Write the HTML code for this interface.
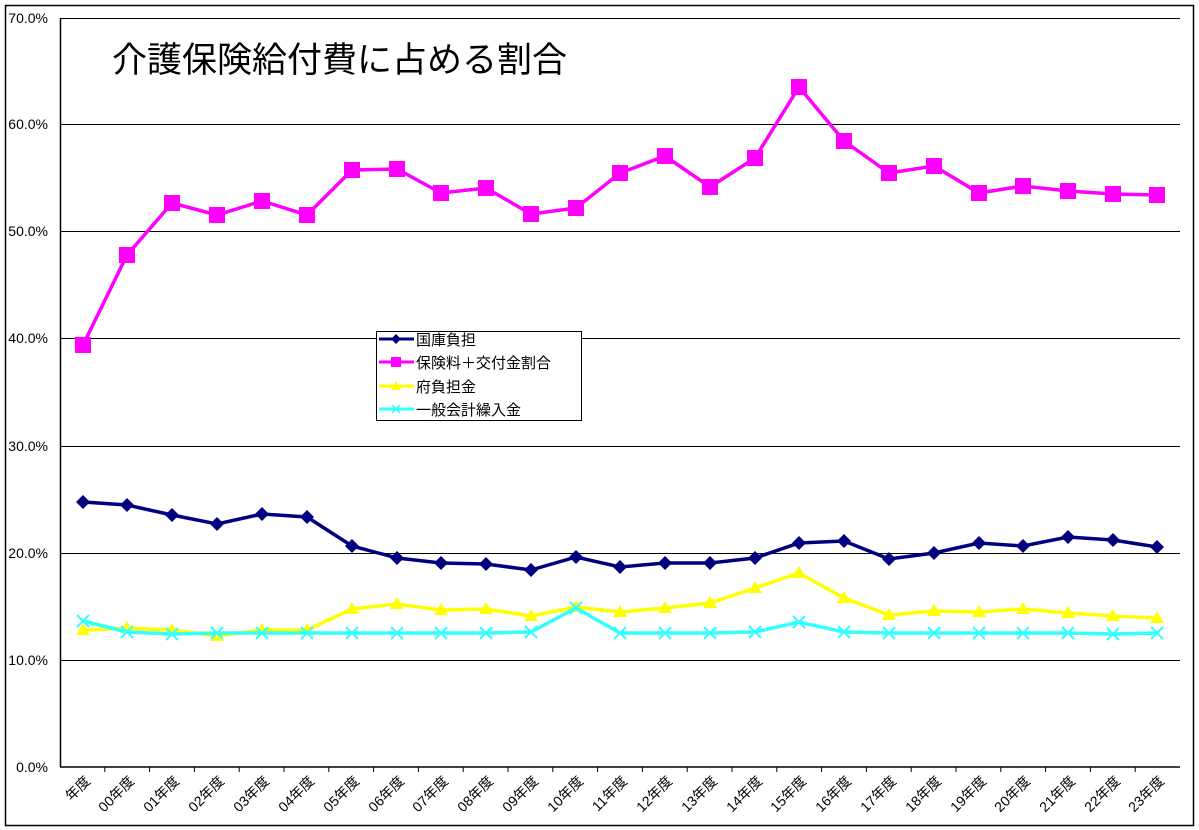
<!DOCTYPE html><html><head><meta charset="utf-8"><style>body{margin:0;background:#fff}svg{display:block}text{font-family:"Liberation Sans","Noto Sans CJK JP",sans-serif}</style></head><body>
<svg width="1199" height="830" xmlns="http://www.w3.org/2000/svg">
<defs>
<marker id="mN" markerUnits="userSpaceOnUse" markerWidth="14" markerHeight="14" refX="7" refY="7" overflow="visible"><polygon points="7,0 14,7 7,14 0,7" fill="#000080"/></marker>
<marker id="mM" markerUnits="userSpaceOnUse" markerWidth="16" markerHeight="16" refX="8" refY="8" overflow="visible"><rect width="16" height="16" fill="#ff00ff"/></marker>
<marker id="mY" markerUnits="userSpaceOnUse" markerWidth="14" markerHeight="14" refX="7" refY="7" overflow="visible"><polygon points="7,0 14,12 0,12" fill="#ffff00"/></marker>
<marker id="mC" markerUnits="userSpaceOnUse" markerWidth="12" markerHeight="12" refX="6" refY="6" overflow="visible"><path d="M0,0L12,12M12,0L0,12" stroke="#33ffff" stroke-width="2"/></marker>
</defs>
<rect x="5.5" y="5.5" width="1188" height="820" fill="#fff" stroke="#000" stroke-width="1.5"/>
<g stroke="#000" stroke-width="1">
<line x1="60" y1="18.5" x2="1180" y2="18.5"/><line x1="60" y1="124.5" x2="1180" y2="124.5"/><line x1="60" y1="231.5" x2="1180" y2="231.5"/><line x1="60" y1="338.5" x2="1180" y2="338.5"/><line x1="60" y1="446.5" x2="1180" y2="446.5"/><line x1="60" y1="553.5" x2="1180" y2="553.5"/><line x1="60" y1="660.5" x2="1180" y2="660.5"/>
<line x1="60.5" y1="18" x2="60.5" y2="767" stroke-width="1.5"/><line x1="60" y1="767" x2="1180" y2="767" stroke-width="1.5"/>
<path d="M104.8,767v5M149.6,767v5M194.4,767v5M239.2,767v5M284,767v5M328.8,767v5M373.6,767v5M418.4,767v5M463.2,767v5M508,767v5M552.8,767v5M597.6,767v5M642.4,767v5M687.2,767v5M732,767v5M776.8,767v5M821.6,767v5M866.4,767v5M911.2,767v5M956,767v5M1000.8,767v5M1045.6,767v5M1090.4,767v5M1135.2,767v5"/>
</g>
<g font-size="14" text-anchor="end" fill="#000">
<text x="48" y="23">70.0%</text><text x="48" y="129">60.0%</text><text x="48" y="236">50.0%</text><text x="48" y="343">40.0%</text><text x="48" y="451">30.0%</text><text x="48" y="558">20.0%</text><text x="48" y="665">10.0%</text><text x="48" y="772">0.0%</text>
</g>
<g font-size="14" text-anchor="end">
<text transform="translate(91,782) rotate(-45)">年度</text>
<text transform="translate(135,782) rotate(-45)">00年度</text>
<text transform="translate(180,782) rotate(-45)">01年度</text>
<text transform="translate(225,782) rotate(-45)">02年度</text>
<text transform="translate(270,782) rotate(-45)">03年度</text>
<text transform="translate(315,782) rotate(-45)">04年度</text>
<text transform="translate(360,782) rotate(-45)">05年度</text>
<text transform="translate(405,782) rotate(-45)">06年度</text>
<text transform="translate(449,782) rotate(-45)">07年度</text>
<text transform="translate(494,782) rotate(-45)">08年度</text>
<text transform="translate(539,782) rotate(-45)">09年度</text>
<text transform="translate(584,782) rotate(-45)">10年度</text>
<text transform="translate(628,782) rotate(-45)">11年度</text>
<text transform="translate(673,782) rotate(-45)">12年度</text>
<text transform="translate(718,782) rotate(-45)">13年度</text>
<text transform="translate(763,782) rotate(-45)">14年度</text>
<text transform="translate(807,782) rotate(-45)">15年度</text>
<text transform="translate(852,782) rotate(-45)">16年度</text>
<text transform="translate(897,782) rotate(-45)">17年度</text>
<text transform="translate(942,782) rotate(-45)">18年度</text>
<text transform="translate(987,782) rotate(-45)">19年度</text>
<text transform="translate(1031,782) rotate(-45)">20年度</text>
<text transform="translate(1076,782) rotate(-45)">21年度</text>
<text transform="translate(1121,782) rotate(-45)">22年度</text>
<text transform="translate(1165,782) rotate(-45)">23年度</text>
</g>
<text x="112" y="72" font-size="35">介護保険給付費に占める割合</text>
<g fill="none" stroke-width="3.5">
<polyline stroke="#ffff00" marker-start="url(#mY)" marker-mid="url(#mY)" marker-end="url(#mY)" points="83,630 127,628 172,630 217,636 262,630 307,630 352,609 397,604 441,610 486,609 531,616 576,607 620,612 665,608 710,603 755,588 799,573 844,598 889,615 934,611 979,612 1023,609 1068,613 1113,616 1157,618"/>
<polyline stroke="#33ffff" marker-start="url(#mC)" marker-mid="url(#mC)" marker-end="url(#mC)" points="83,621 127,632 172,634 217,633 262,633 307,633 352,633 397,633 441,633 486,633 531,632 576,608 620,633 665,633 710,633 755,632 799,622 844,632 889,633 934,633 979,633 1023,633 1068,633 1113,634 1157,633"/>
<polyline stroke="#000080" marker-start="url(#mN)" marker-mid="url(#mN)" marker-end="url(#mN)" points="83,502 127,505 172,515 217,524 262,514 307,517 352,546 397,558 441,563 486,564 531,570 576,557 620,567 665,563 710,563 755,558 799,543 844,541 889,559 934,553 979,543 1023,546 1068,537 1113,540 1157,547"/>
<polyline stroke="#ff00ff" marker-start="url(#mM)" marker-mid="url(#mM)" marker-end="url(#mM)" points="83,345 127,255 172,203 217,215 262,201 307,215 352,170 397,169 441,193 486,188 531,214 576,208 620,173 665,156 710,187 755,158 799,87 844,141 889,173 934,166 979,193 1023,186 1068,191 1113,194 1157,195"/>
</g>
<rect x="376.5" y="331.5" width="205" height="89" fill="#fff" stroke="#000"/>
<g font-size="15">
<line x1="379" y1="339" x2="414" y2="339" stroke="#000080" stroke-width="3"/><polygon points="396,334 401,339 396,344 391,339" fill="#000080"/><text x="416" y="345">国庫負担</text>
<line x1="379" y1="362" x2="414" y2="362" stroke="#ff00ff" stroke-width="3"/><rect x="391" y="357" width="10" height="10" fill="#ff00ff"/><text x="416" y="368">保険料＋交付金割合</text>
<line x1="379" y1="386" x2="414" y2="386" stroke="#ffff00" stroke-width="3"/><polygon points="396,381 401,390 391,390" fill="#ffff00"/><text x="416" y="392">府負担金</text>
<line x1="379" y1="409" x2="414" y2="409" stroke="#33ffff" stroke-width="3"/><path d="M392,405L400,413M400,405L392,413" stroke="#33ffff" stroke-width="1.5"/><text x="416" y="415">一般会計繰入金</text>
</g>
</svg></body></html>
